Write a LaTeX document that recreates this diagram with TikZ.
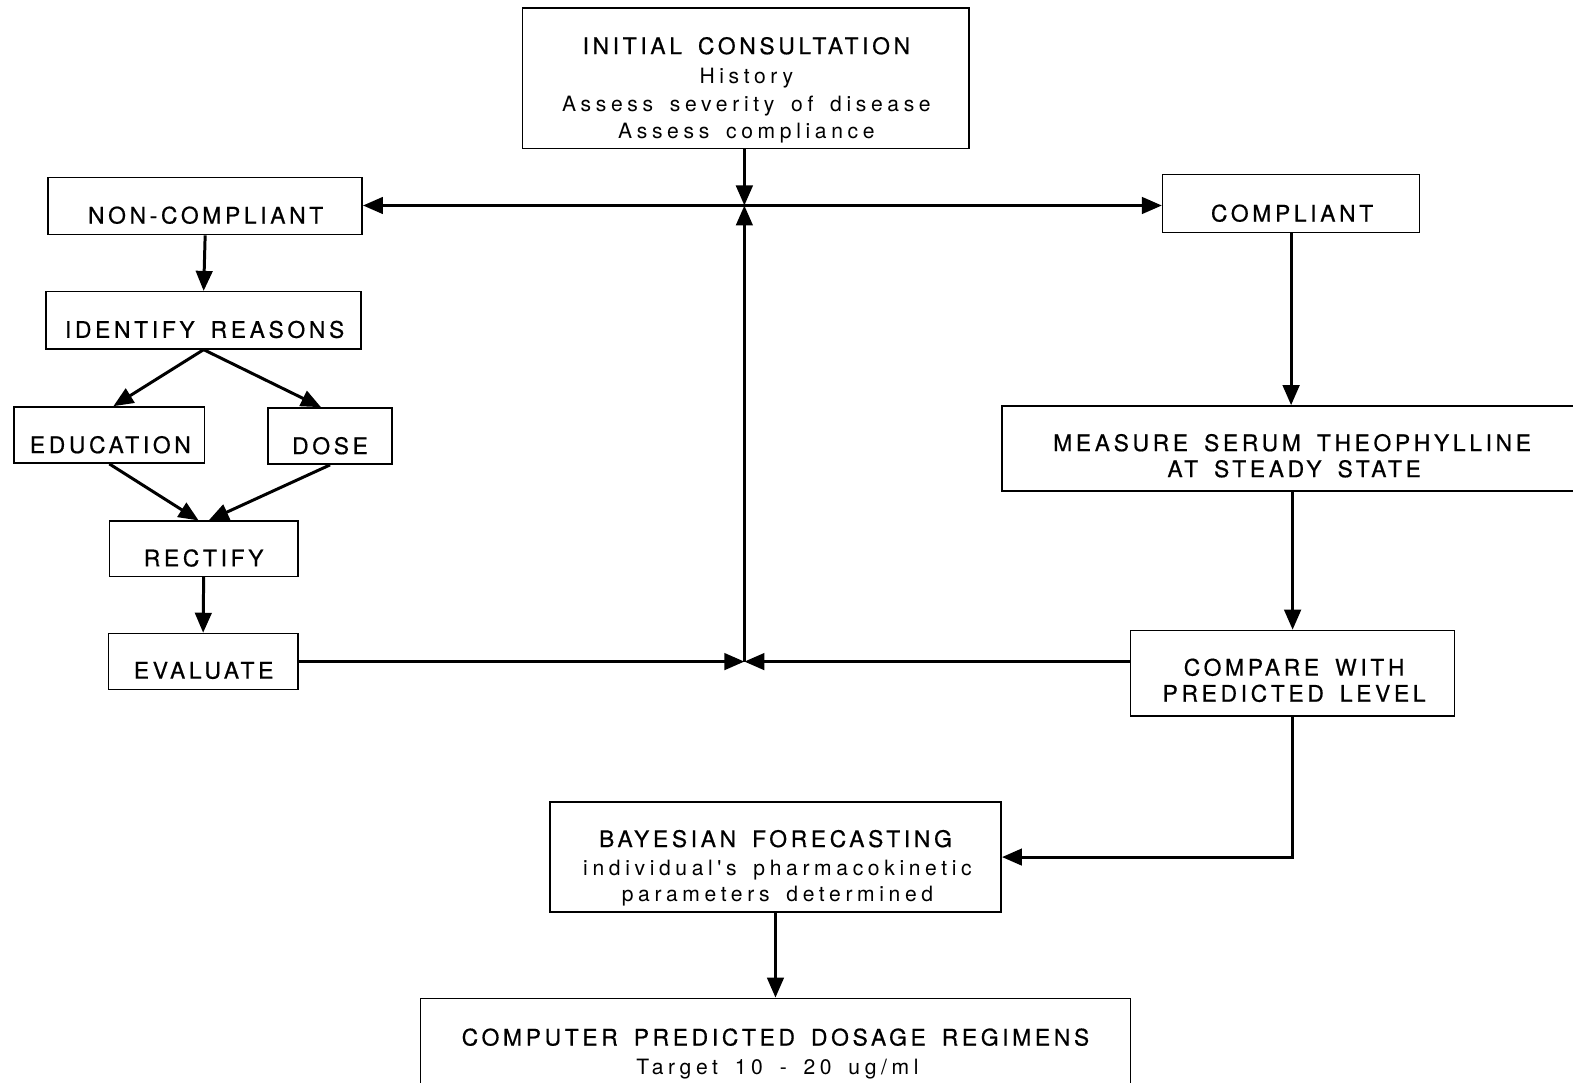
\documentclass[tikz,border=0pt]{standalone}
\usepackage{fontspec}
\newfontfamily\hv[LetterSpace=16,WordSpace=1.6,FakeBold=0.6]{TeX Gyre Heros}
\newfontfamily\hvs[LetterSpace=22,WordSpace=1.6]{TeX Gyre Heros}
\usetikzlibrary{arrows.meta,fit,calc}
\begin{document}
\begin{tikzpicture}[x=0.020064cm,y=-0.020056cm,
  box/.style={draw=black,line width=0.9pt,inner sep=0pt},
  lbl/.style={inner sep=0pt,anchor=base,font=\hv\fontsize{13}{15}\selectfont},
  sub/.style={inner sep=0pt,anchor=base,font=\hvs\fontsize{12}{14}\selectfont},
  arr/.style={line width=1.7pt,-{Triangle[length=0.4cm,width=0.33cm]}},
  ln/.style={line width=1.7pt}]
\useasboundingbox (0,0) rectangle (1568,1080);
% boxes
\node[box,fit={(521,8) (966,148)}] (init) {};
\node[box,fit={(48,177) (361,234)}] (nc) {};
\node[box,fit={(1159,174) (1415,232)}] (comp) {};
\node[box,fit={(46,291) (360,348)}] (id) {};
\node[box,fit={(14,406) (204,462)}] (edu) {};
\node[box,fit={(267,407) (391,463)}] (dose) {};
\node[box,fit={(109,520) (297,575)}] (rect) {};
\node[box,fit={(108,632) (297,688)}] (ev) {};
\node[box,fit={(999,405) (1580,490)}] (meas) {};
\node[box,fit={(1127,629) (1450,714)}] (cmp) {};
\node[box,fit={(548,800) (998,910)}] (bay) {};
\node[box,fit={(419,996) (1127,1090)}] (cpd) {};
% texts
\node[lbl] (t1) at (744,54) {INITIAL CONSULTATION};
\node[sub] (t2) at (744,83) {History};
\node[sub] (t3) at (744,111) {Assess severity of disease};
\node[sub] (t4) at (744,138) {Assess compliance};
\node[lbl] (t5) at (205,223) {NON-COMPLIANT};
\node[lbl] (t6) at (1288,221) {COMPLIANT};
\node[lbl] (t7) at (204,337) {IDENTIFY REASONS};
\node[lbl] (t8) at (110,452) {EDUCATION};
\node[lbl] (t9) at (329,453) {DOSE};
\node[lbl] (t10) at (203,565) {RECTIFY};
\node[lbl] (t11) at (203,677) {EVALUATE};
\node[lbl] (t12) at (1288,450) {MEASURE SERUM THEOPHYLLINE};
\node[lbl] (t13) at (1290,476) {AT STEADY STATE};
\node[lbl] (t14) at (1290,674) {COMPARE WITH};
\node[lbl] (t15) at (1290,700) {PREDICTED LEVEL};
\node[lbl] (t16) at (773,845) {BAYESIAN FORECASTING};
\node[sub] (t17) at (775,873) {individual's pharmacokinetic};
\node[sub] (t18) at (775,899) {parameters determined};
\node[lbl] (t19) at (773,1043) {COMPUTER PREDICTED DOSAGE REGIMENS};
\node[sub] (t20) at (775,1072) {Target 10 - 20 ug/ml};
% junctions
\coordinate (j1) at (742,205);
\coordinate (j2) at (742,660);
% connectors
\draw[arr] (init.south -| j1) -- (j1);
\draw[arr] (j1) -- (nc.east |- j1);
\draw[arr] (j1) -- (comp.west |- j1);
\draw[arr] (j2) -- (j1);
\draw[arr] (ev.east |- j2) -- (j2);
\draw[arr] (cmp.west |- j2) -- (j2);
\draw[arr] (nc.south) -- (id.north);
\draw[arr] (id.south) -- ($(edu.north)+(4,0)$);
\draw[arr] (id.south) -- ($(dose.north)+(-9,0)$);
\draw[arr] (edu.south) -- ($(rect.north)+(-5,0)$);
\draw[arr] (dose.south) -- ($(rect.north)+(5,0)$);
\draw[arr] (rect.south) -- (ev.north);
\draw[arr] (comp.south) -- (comp.south |- meas.north);
\draw[arr] (cmp.north |- meas.south) -- (cmp.north);
\draw[arr] (cmp.south) |- (bay.east);
\draw[arr] (bay.south) -- (bay.south |- cpd.north);
\end{tikzpicture}
\end{document}
